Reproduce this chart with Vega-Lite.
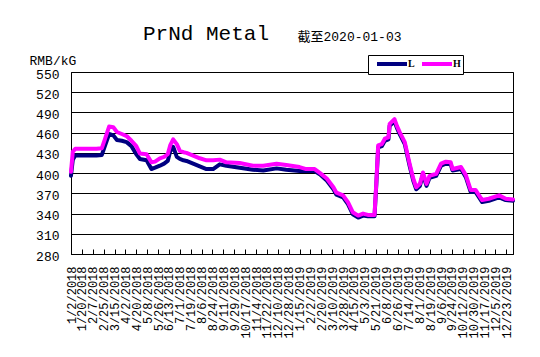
{
  "$schema": "https://vega.github.io/schema/vega-lite/v6.json",
  "width": 442,
  "height": 182,
  "autosize": {"type": "none"},
  "padding": {"left": 71, "top": 72, "right": 27, "bottom": 103},
  "background": "white",
  "title": {
    "text": "PrNd Metal",
    "anchor": "start",
    "frame": "group",
    "dx": 72,
    "dy": 24,
    "font": "Liberation Mono",
    "fontSize": 21,
    "fontWeight": "normal",
    "color": "#000000",
    "offset": 10
  },
  "data": {
    "values": [
      {"d": "2018-01-02", "L": 396, "H": 402},
      {"d": "2018-01-05", "L": 420, "H": 432},
      {"d": "2018-01-09", "L": 426, "H": 436},
      {"d": "2018-01-16", "L": 426, "H": 436},
      {"d": "2018-01-23", "L": 426, "H": 436},
      {"d": "2018-01-30", "L": 426, "H": 436},
      {"d": "2018-02-06", "L": 426, "H": 436},
      {"d": "2018-02-13", "L": 426, "H": 436},
      {"d": "2018-02-22", "L": 427, "H": 437},
      {"d": "2018-02-27", "L": 440, "H": 450},
      {"d": "2018-03-06", "L": 458, "H": 469},
      {"d": "2018-03-13", "L": 456, "H": 468},
      {"d": "2018-03-19", "L": 449, "H": 461},
      {"d": "2018-03-27", "L": 448, "H": 458},
      {"d": "2018-04-04", "L": 446, "H": 455},
      {"d": "2018-04-12", "L": 440, "H": 448},
      {"d": "2018-04-20", "L": 428, "H": 440},
      {"d": "2018-04-26", "L": 421, "H": 429},
      {"d": "2018-05-07", "L": 419, "H": 428},
      {"d": "2018-05-15", "L": 406, "H": 416},
      {"d": "2018-05-21", "L": 408, "H": 417},
      {"d": "2018-05-29", "L": 411, "H": 422},
      {"d": "2018-06-05", "L": 414, "H": 424},
      {"d": "2018-06-11", "L": 418, "H": 428},
      {"d": "2018-06-15", "L": 432, "H": 441},
      {"d": "2018-06-20", "L": 439, "H": 450},
      {"d": "2018-06-26", "L": 424, "H": 443},
      {"d": "2018-07-01", "L": 421, "H": 433},
      {"d": "2018-07-07", "L": 419, "H": 431},
      {"d": "2018-07-12", "L": 418, "H": 430},
      {"d": "2018-07-23", "L": 414, "H": 426},
      {"d": "2018-08-03", "L": 410, "H": 422},
      {"d": "2018-08-14", "L": 406, "H": 419},
      {"d": "2018-08-25", "L": 406, "H": 419},
      {"d": "2018-09-05", "L": 413, "H": 420},
      {"d": "2018-09-16", "L": 411, "H": 416},
      {"d": "2018-10-08", "L": 408, "H": 415},
      {"d": "2018-10-30", "L": 405, "H": 411},
      {"d": "2018-11-16", "L": 404, "H": 411},
      {"d": "2018-12-08", "L": 407, "H": 414},
      {"d": "2018-12-24", "L": 405, "H": 412},
      {"d": "2019-01-15", "L": 403, "H": 409},
      {"d": "2019-01-26", "L": 403, "H": 406},
      {"d": "2019-02-09", "L": 403, "H": 406},
      {"d": "2019-02-18", "L": 398, "H": 400},
      {"d": "2019-03-01", "L": 389, "H": 392},
      {"d": "2019-03-12", "L": 376, "H": 379},
      {"d": "2019-03-17", "L": 368, "H": 371},
      {"d": "2019-03-28", "L": 364, "H": 367},
      {"d": "2019-04-05", "L": 354, "H": 357},
      {"d": "2019-04-13", "L": 339, "H": 342},
      {"d": "2019-04-22", "L": 334, "H": 337},
      {"d": "2019-04-30", "L": 337, "H": 340},
      {"d": "2019-05-08", "L": 336, "H": 338},
      {"d": "2019-05-19", "L": 336, "H": 338},
      {"d": "2019-05-22", "L": 384, "H": 387},
      {"d": "2019-05-25", "L": 438, "H": 441},
      {"d": "2019-05-31", "L": 440, "H": 443},
      {"d": "2019-06-05", "L": 448, "H": 451},
      {"d": "2019-06-11", "L": 450, "H": 453},
      {"d": "2019-06-13", "L": 470, "H": 473},
      {"d": "2019-06-21", "L": 477, "H": 480},
      {"d": "2019-06-25", "L": 467, "H": 470},
      {"d": "2019-06-30", "L": 457, "H": 460},
      {"d": "2019-07-08", "L": 443, "H": 446},
      {"d": "2019-07-16", "L": 411, "H": 414},
      {"d": "2019-07-22", "L": 389, "H": 392},
      {"d": "2019-07-27", "L": 376, "H": 379},
      {"d": "2019-08-02", "L": 381, "H": 384},
      {"d": "2019-08-07", "L": 398, "H": 401},
      {"d": "2019-08-13", "L": 381, "H": 384},
      {"d": "2019-08-18", "L": 393, "H": 396},
      {"d": "2019-08-29", "L": 396, "H": 399},
      {"d": "2019-09-06", "L": 411, "H": 414},
      {"d": "2019-09-14", "L": 414, "H": 417},
      {"d": "2019-09-22", "L": 413, "H": 416},
      {"d": "2019-09-25", "L": 404, "H": 406},
      {"d": "2019-10-09", "L": 406, "H": 409},
      {"d": "2019-10-17", "L": 394, "H": 397},
      {"d": "2019-10-25", "L": 372, "H": 375},
      {"d": "2019-11-02", "L": 372, "H": 375},
      {"d": "2019-11-13", "L": 357, "H": 360},
      {"d": "2019-11-24", "L": 359, "H": 362},
      {"d": "2019-12-11", "L": 364, "H": 367},
      {"d": "2019-12-22", "L": 360, "H": 362},
      {"d": "2020-01-03", "L": 359, "H": 361}
    ]
  },
  "encoding": {
    "color": {
      "scale": {"domain": ["L", "H"], "range": ["#000080", "#FF00FF"]},
      "legend": {
        "title": null,
        "orient": "none",
        "direction": "horizontal",
        "legendX": 297,
        "legendY": -17,
        "symbolType": "M0,0H6",
        "symbolSize": 100,
        "symbolStrokeWidth": 4,
        "labelFont": "Liberation Serif",
        "labelFontWeight": "bold",
        "labelFontSize": 10,
        "labelColor": "#000000",
        "labelOffset": 24,
        "columnPadding": -10,
        "padding": 2,
        "strokeColor": "#000000",
        "fillColor": "#FFFFFF"
      }
    }
  },
  "layer": [
    {
      "mark": {"type": "line", "strokeWidth": 4, "strokeJoin": "round", "strokeCap": "round"},
      "encoding": {
        "x": {
          "field": "d",
          "type": "temporal",
          "scale": {
            "type": "utc",
            "domain": [{"year": 2018, "month": 1, "date": 2, "utc": true}, {"year": 2020, "month": 1, "date": 3, "utc": true}]
          },
          "axis": {
            "title": null,
            "grid": false,
            "format": "%-m/%-d/%Y",
            "labelAngle": 270,
            "labelAlign": "right",
            "labelBaseline": "middle",
            "labelFont": "Liberation Mono",
            "labelFontSize": 12,
            "labelColor": "#000000",
            "labelPadding": 17,
            "labelOverlap": false,
            "labelFlush": false,
            "labelBound": false,
            "tickSize": -5,
            "tickCount": 41,
            "tickColor": "#000000",
            "domainColor": "#000000",
            "values": [
              {"year": 2018, "month": 1, "date": 2, "utc": true},
              {"year": 2018, "month": 1, "date": 20, "utc": true},
              {"year": 2018, "month": 2, "date": 7, "utc": true},
              {"year": 2018, "month": 2, "date": 25, "utc": true},
              {"year": 2018, "month": 3, "date": 15, "utc": true},
              {"year": 2018, "month": 4, "date": 2, "utc": true},
              {"year": 2018, "month": 4, "date": 20, "utc": true},
              {"year": 2018, "month": 5, "date": 8, "utc": true},
              {"year": 2018, "month": 5, "date": 26, "utc": true},
              {"year": 2018, "month": 6, "date": 13, "utc": true},
              {"year": 2018, "month": 7, "date": 1, "utc": true},
              {"year": 2018, "month": 7, "date": 19, "utc": true},
              {"year": 2018, "month": 8, "date": 6, "utc": true},
              {"year": 2018, "month": 8, "date": 24, "utc": true},
              {"year": 2018, "month": 9, "date": 11, "utc": true},
              {"year": 2018, "month": 9, "date": 29, "utc": true},
              {"year": 2018, "month": 10, "date": 17, "utc": true},
              {"year": 2018, "month": 11, "date": 4, "utc": true},
              {"year": 2018, "month": 11, "date": 22, "utc": true},
              {"year": 2018, "month": 12, "date": 10, "utc": true},
              {"year": 2018, "month": 12, "date": 28, "utc": true},
              {"year": 2019, "month": 1, "date": 15, "utc": true},
              {"year": 2019, "month": 2, "date": 2, "utc": true},
              {"year": 2019, "month": 2, "date": 20, "utc": true},
              {"year": 2019, "month": 3, "date": 10, "utc": true},
              {"year": 2019, "month": 3, "date": 28, "utc": true},
              {"year": 2019, "month": 4, "date": 15, "utc": true},
              {"year": 2019, "month": 5, "date": 3, "utc": true},
              {"year": 2019, "month": 5, "date": 21, "utc": true},
              {"year": 2019, "month": 6, "date": 8, "utc": true},
              {"year": 2019, "month": 6, "date": 26, "utc": true},
              {"year": 2019, "month": 7, "date": 14, "utc": true},
              {"year": 2019, "month": 8, "date": 1, "utc": true},
              {"year": 2019, "month": 8, "date": 19, "utc": true},
              {"year": 2019, "month": 9, "date": 6, "utc": true},
              {"year": 2019, "month": 9, "date": 24, "utc": true},
              {"year": 2019, "month": 10, "date": 12, "utc": true},
              {"year": 2019, "month": 10, "date": 30, "utc": true},
              {"year": 2019, "month": 11, "date": 17, "utc": true},
              {"year": 2019, "month": 12, "date": 5, "utc": true},
              {"year": 2019, "month": 12, "date": 23, "utc": true}
            ]
          }
        },
        "y": {
          "field": "L",
          "type": "quantitative",
          "scale": {"domain": [280, 550], "nice": false, "zero": false},
          "axis": {
            "title": "RMB/kG",
            "titleAngle": 0,
            "titleAlign": "left",
            "titleBaseline": "alphabetic",
            "titleX": -42,
            "titleY": -8,
            "titleFont": "Liberation Mono",
            "titleFontSize": 13,
            "titleFontWeight": "normal",
            "titleColor": "#000000",
            "values": [280, 310, 340, 370, 400, 430, 460, 490, 520, 550],
            "tickCount": 10,
            "labelOverlap": false,
            "labelOffset": 2,
            "grid": true,
            "gridColor": "#000000",
            "gridOpacity": 1,
            "gridWidth": 1,
            "ticks": false,
            "domainColor": "#000000",
            "labelFont": "Liberation Mono",
            "labelFontSize": 13,
            "labelColor": "#000000",
            "labelPadding": 12
          }
        },
        "color": {"datum": "L"}
      }
    },
    {
      "mark": {"type": "line", "strokeWidth": 4, "strokeJoin": "round", "strokeCap": "round"},
      "encoding": {
        "x": {
          "field": "d",
          "type": "temporal",
          "scale": {"type": "utc"},
          "axis": {
            "orient": "top",
            "title": "截至2020-01-03",
            "titleFont": "Liberation Mono, Noto Sans CJK SC",
            "titleFontSize": 13,
            "titleFontWeight": "normal",
            "titleColor": "#000000",
            "titleAlign": "left",
            "titleBaseline": "alphabetic",
            "titleAngle": 0,
            "titleX": 226,
            "titleY": -32,
            "labels": false,
            "ticks": false,
            "domain": false,
            "grid": false
          }
        },
        "y": {"field": "H", "type": "quantitative"},
        "color": {"datum": "H"}
      }
    }
  ],
  "resolve": {"axis": {"x": "independent"}},
  "config": {
    "view": {"stroke": "#000000", "strokeWidth": 1}
  }
}
